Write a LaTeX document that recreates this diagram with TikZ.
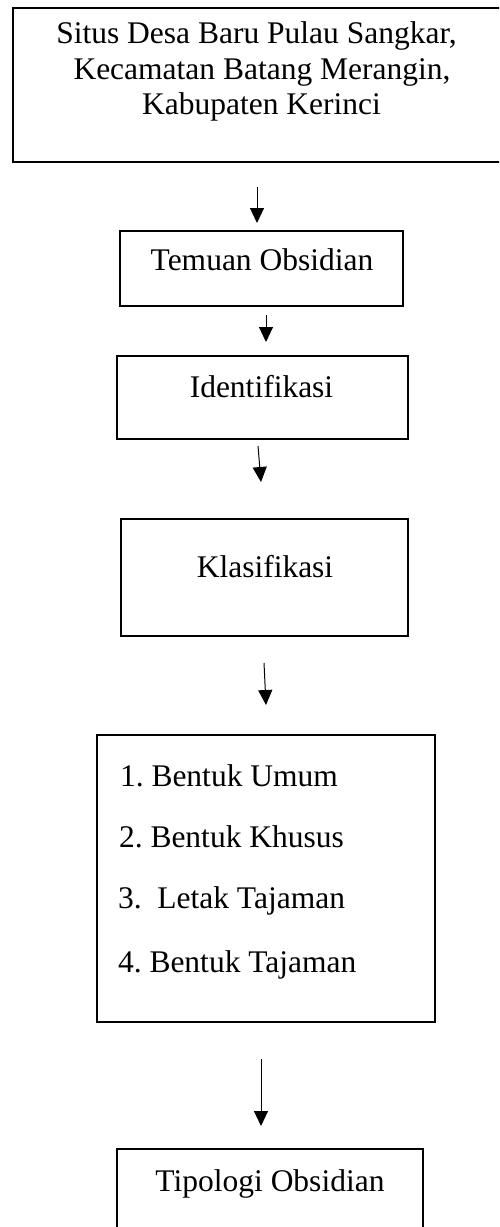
\documentclass[tikz,border=0pt]{standalone}
\usepackage{fontspec}
\setmainfont{Liberation Serif}
\usetikzlibrary{arrows.meta}
\frenchspacing
\begin{document}
\begin{tikzpicture}[x=1pt,y=-1pt,
  boxnode/.style={draw=black,line width=2.2pt,rectangle,inner sep=0pt,outer sep=0pt},
  txt/.style={inner sep=0pt,outer sep=0pt,font=\fontsize{31.5}{35.5}\selectfont},
  arr/.style={line width=1pt,-{Triangle[length=15pt,width=14pt]}}]
\clip (0,0) rectangle (499,1227);
% boxes
\node[boxnode,minimum width=497pt,minimum height=154pt] (b1) at (261.5,85) {};
\node[boxnode,minimum width=283pt,minimum height=75pt] (b2) at (261.5,268.5) {};
\node[boxnode,minimum width=291pt,minimum height=83pt] (b3) at (262.5,397.5) {};
\node[boxnode,minimum width=287pt,minimum height=117pt] (b4) at (264.5,577.5) {};
\node[boxnode,minimum width=338pt,minimum height=287pt,line width=2pt] (b5) at (266,878.5) {};
\node[boxnode,minimum width=306pt,minimum height=91pt] (b6) at (270,1194.5) {};
% texts
\node[txt,anchor=base] (t1a) at (256.5,43) {Situs Desa Baru Pulau Sangkar,};
\node[txt,anchor=base] (t1b) at (262,79) {Kecamatan Batang Merangin,};
\node[txt,anchor=base] (t1c) at (261.5,114) {Kabupaten Kerinci};
\node[txt,anchor=base] (t2) at (262,270) {Temuan Obsidian};
\node[txt,anchor=base] (t3) at (261.5,397) {Identifikasi};
\node[txt,anchor=base] (t4) at (265,577) {Klasifikasi};
\node[txt,anchor=base west] (t5a) at (120,786) {1. Bentuk Umum};
\node[txt,anchor=base west] (t5b) at (119,847) {2. Bentuk Khusus};
\node[txt,anchor=base west] (t5c) at (118,908) {3.\ \ Letak Tajaman};
\node[txt,anchor=base west] (t5d) at (118,972) {4. Bentuk Tajaman};
\node[txt,anchor=base] (t6) at (270,1191) {Tipologi Obsidian};
% arrow end points
\coordinate (a1s) at (257,187); \coordinate (a1e) at (257,223);
\coordinate (a2s) at (266,315); \coordinate (a2e) at (266,342);
\coordinate (a3s) at (258,446); \coordinate (a3e) at (261,482);
\coordinate (a4s) at (264,663); \coordinate (a4e) at (266,705);
\coordinate (a5s) at (261,1059); \coordinate (a5e) at (261,1126);
\draw[arr] (a1s) -- (a1e);
\draw[arr] (a2s) -- (a2e);
\draw[arr] (a3s) -- (a3e);
\draw[arr] (a4s) -- (a4e);
\draw[arr] (a5s) -- (a5e);
\end{tikzpicture}
\end{document}
